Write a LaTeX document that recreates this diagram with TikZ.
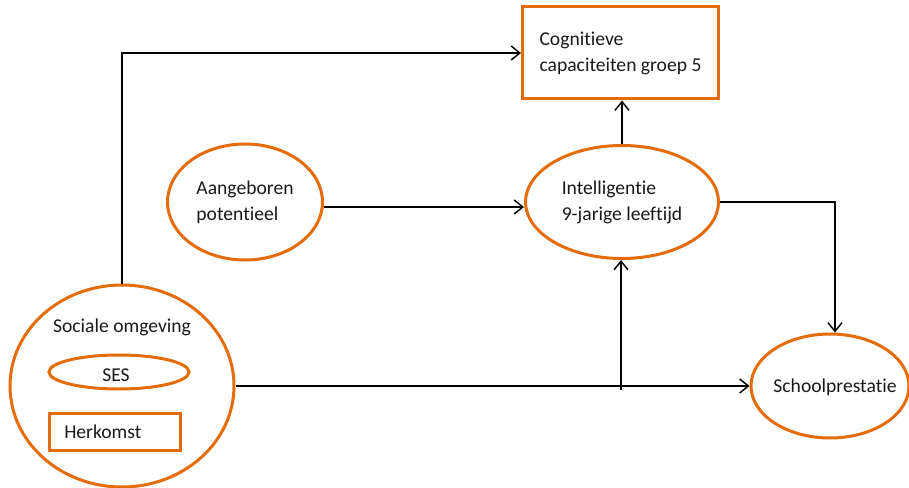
\documentclass[tikz,border=0pt]{standalone}
\usepackage{fontspec}
\setmainfont[Ligatures={NoCommon}]{Carlito}
\usetikzlibrary{shapes.geometric,arrows.meta,calc}
\definecolor{org}{RGB}{228,108,10}
\begin{document}
\begin{tikzpicture}[x=0.75pt,y=-0.75pt,
  every node/.style={font=\fontsize{14.7}{19.5}\selectfont, inner sep=0pt, text=black!90},
  ell/.style={ellipse, draw=org, line width=2.25pt, align=left},
  box/.style={rectangle, draw=org, line width=2.25pt, align=left},
  arr/.style={draw=black, line width=1.1pt, -{Straight Barb[length=6.5pt,width=10.5pt]}},
  ln/.style={draw=black, line width=1.1pt}]
\useasboundingbox (0,0) rectangle (909,488);
% nodes
\node[ell, minimum width=168pt, minimum height=151.5pt] (soc) at (122,386) {};
\node (soctxt) at (122,327) {Sociale omgeving};
\node[ell, minimum width=105pt, minimum height=25.5pt] (ses) at (119,372) {};
\node (sestxt) at (116,375) {SES};
\node[box, minimum width=98.25pt, minimum height=27.75pt] (herk) at (114.5,431.5) {};
\node[anchor=west] (herktxt) at (64,431.5) {Herkomst};
\node[ell, minimum width=116.25pt, minimum height=87pt] (aang) at (245,202) {Aangeboren\\potentieel};
\node[ell, minimum width=144.75pt, minimum height=84.75pt] (int) at (622,202) {Intelligentie\\9-jarige leeftijd};
\node[box, minimum width=147pt, minimum height=69pt] (cog) at (620.5,53) {Cognitieve\\capaciteiten groep 5};
\node[ell, minimum width=118.5pt, minimum height=78pt] (sch) at (830,386) {};
\node (schtxt) at (835,387) {Schoolprestatie};
% connectors
\draw[arr] (soc.north) |- (cog.west);
\draw[arr] ([yshift=-3.75pt]aang.east) -- ([yshift=-3.75pt]int.west);
\draw[arr] (int.north) -- (int.north |- cog.south);
\draw[arr] (int.east) -| ($(sch.north)+(5,0)$);
\draw[arr] (soc.east) -- (sch.west);
\coordinate (j) at (621,390);
\draw[arr] (j) -- (j |- int.south);
\end{tikzpicture}
\end{document}
